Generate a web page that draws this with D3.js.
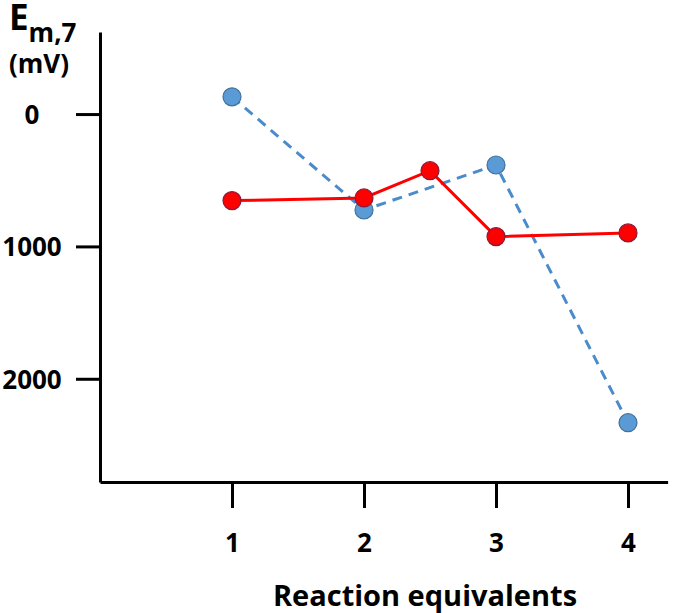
<!DOCTYPE html>
<html>
<head>
<meta charset="utf-8">
<script src="https://cdn.jsdelivr.net/npm/d3@7"></script>
<style>
  body { margin: 0; background: #fff; }
  svg text { font-family: "Open Sans", "Liberation Sans", sans-serif; font-weight: bold; fill: #000; }
</style>
</head>
<body>
<div id="chart"></div>
<script>
// values (mV, axis inverted)
const xTicks = [1, 2, 3, 4];
const yTicks = [0, 1000, 2000];
const blueX = [1, 2, 3, 4];
const blueY = [-130, 725, 385, 2332];
const redX = [1, 2, 2.5, 3, 4];
const redY = [654, 634, 428, 926, 898];

const W = 699, H = 613;
const svg = d3.select("#chart").append("svg")
  .attr("width", W).attr("height", H);

const x = d3.scaleLinear().domain([0, 4.3]).range([100, 667.6]);
const y = d3.scaleLinear().domain([-620, 2780]).range([32, 482]);

// y axis
const yAxis = svg.append("g")
  .attr("transform", "translate(100,0)")
  .call(d3.axisLeft(y).tickValues(yTicks).tickSize(24).tickSizeOuter(0).tickFormat(d3.format("d")));
yAxis.selectAll("path, line").attr("stroke", "#000").attr("stroke-width", 3);
yAxis.selectAll("text")
  .attr("x", -68).attr("text-anchor", "middle")
  .attr("font-size", 26).attr("dy", "0.36em");

// x axis
const xAxis = svg.append("g")
  .attr("transform", "translate(0,482)")
  .call(d3.axisBottom(x).tickValues(xTicks).tickSize(26).tickSizeOuter(0).tickFormat(d3.format("d")));
xAxis.selectAll("path, line").attr("stroke", "#000").attr("stroke-width", 3);
xAxis.selectAll("text")
  .attr("y", 70).attr("dy", 0)
  .attr("font-size", 26);

// axis titles
svg.append("text")
  .attr("x", 425).attr("y", 606)
  .attr("text-anchor", "middle")
  .attr("font-size", 29)
  .text("Reaction equivalents");

const yt = svg.append("text").attr("x", 9).attr("y", 30);
yt.append("tspan").attr("font-size", 35).text("E");
yt.append("tspan").attr("font-size", 26).attr("dy", 12).text("m,7");
svg.append("text")
  .attr("x", 9).attr("y", 73)
  .attr("font-size", 26)
  .text("(mV)");

const blue = blueX.map((d, i) => [d, blueY[i]]);
const red = redX.map((d, i) => [d, redY[i]]);
const line = d3.line().x(d => x(d[0])).y(d => y(d[1]));

// blue dashed series
svg.append("path")
  .datum(blue)
  .attr("d", line)
  .attr("fill", "none")
  .attr("stroke", "#4A8CCB")
  .attr("stroke-width", 3)
  .attr("stroke-dasharray", "10,7");
svg.append("g").selectAll("circle")
  .data(blue).enter().append("circle")
  .attr("cx", d => x(d[0])).attr("cy", d => y(d[1]))
  .attr("r", 9)
  .attr("fill", "#5B9BD5")
  .attr("stroke", "#41719C")
  .attr("stroke-width", 1.2);

// red solid series
svg.append("path")
  .datum(red)
  .attr("d", line)
  .attr("fill", "none")
  .attr("stroke", "#FF0000")
  .attr("stroke-width", 3);
svg.append("g").selectAll("circle")
  .data(red).enter().append("circle")
  .attr("cx", d => x(d[0])).attr("cy", d => y(d[1]))
  .attr("r", 9)
  .attr("fill", "#FF0000")
  .attr("stroke", "#8B1A3A")
  .attr("stroke-width", 1.2);
</script>
</body>
</html>
